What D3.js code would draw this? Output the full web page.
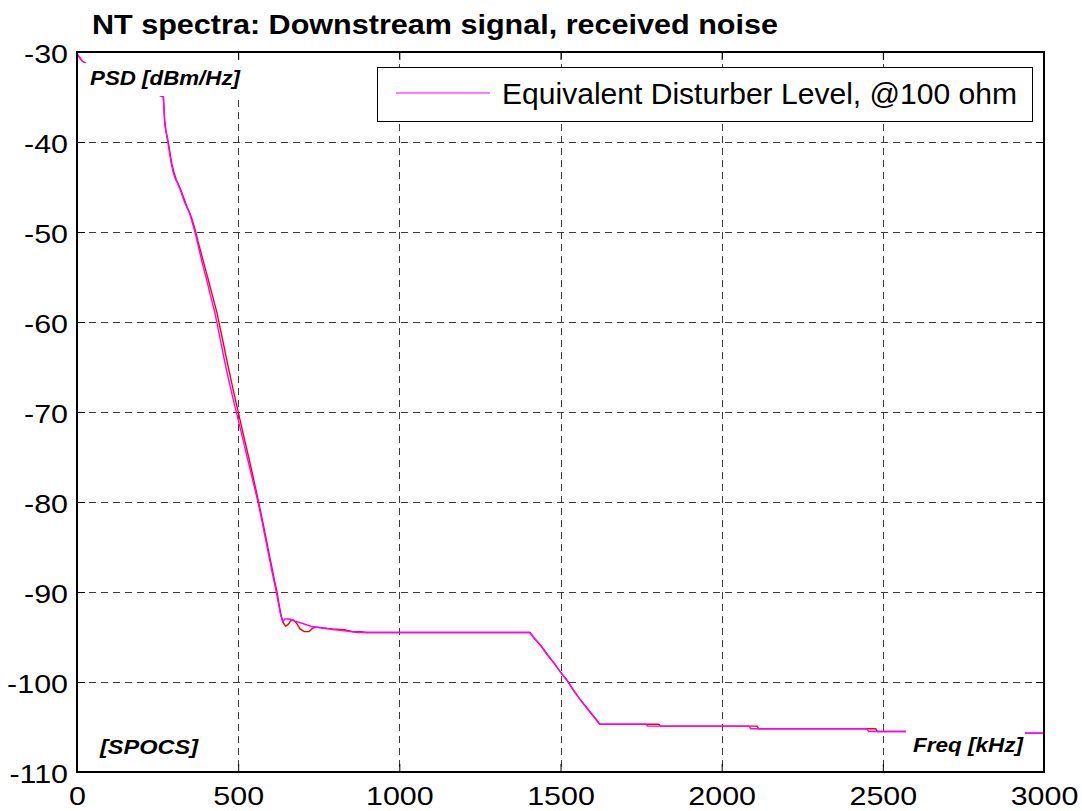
<!DOCTYPE html>
<html>
<head>
<meta charset="utf-8">
<script src="https://cdn.jsdelivr.net/npm/d3@7"></script>
<style>
  html, body { margin: 0; padding: 0; background: #fff; }
  svg { display: block; font-family: Arial, "Liberation Sans", Helvetica, sans-serif; }
</style>
</head>
<body>
<svg id="chart" width="1082" height="811"></svg>
<script>
// ---------------- DATA ----------------
const title = "NT spectra: Downstream signal, received noise";
const legendLabel = "Equivalent Disturber Level, @100 ohm";
const yLabel = "PSD [dBm/Hz]";
const xLabel = "Freq [kHz]";
const cornerLabel = "[SPOCS]";

const xTicks = [0, 500, 1000, 1500, 2000, 2500, 3000];
const yTicks = [-30, -40, -50, -60, -70, -80, -90, -100, -110];

// Magenta series: Equivalent Disturber Level
const magentaFreq = [0, 16, 60, 140, 220, 266, 268, 270, 272, 278, 282, 287, 292, 298, 304, 312, 319, 327, 335, 343, 350, 358, 366, 374, 381, 389, 397, 405, 412, 420, 428, 437, 446, 456, 466, 476, 486, 495, 505, 516, 527, 538, 550, 562, 572, 582, 592, 601, 610, 619, 626, 632, 638, 645, 660, 675, 700, 725, 760, 800, 830, 870, 1405, 1420, 1440, 1460, 1480, 1500, 1520, 1540, 1560, 1580, 1600, 1622, 1765, 1770, 2085, 2090, 2450, 2456, 2600, 2800, 2940, 3000];
const magentaDb = [-30.2, -31.0, -32.0, -33.2, -34.3, -34.9, -35.0, -36.5, -38.0, -39.2, -40.0, -41.2, -42.3, -43.3, -44.0, -44.6, -45.2, -46.0, -46.8, -47.4, -48.0, -49.0, -50.0, -51.2, -52.3, -53.5, -54.6, -55.7, -56.8, -57.9, -59.0, -60.6, -62.2, -64.0, -65.7, -67.3, -68.8, -70.1, -71.6, -73.2, -74.9, -76.5, -78.3, -80.1, -81.8, -83.6, -85.4, -87.0, -88.6, -90.1, -91.5, -92.6, -93.3, -93.0, -93.0, -93.2, -93.5, -93.8, -94.0, -94.2, -94.3, -94.5, -94.5, -95.2, -96.0, -97.0, -97.9, -98.9, -99.8, -100.9, -101.9, -102.8, -103.7, -104.7, -104.7, -104.9, -104.9, -105.2, -105.2, -105.5, -105.5, -105.6, -105.7, -105.7];

// Red series (underneath)
const redFreq = [0, 16, 60, 140, 220, 268, 272, 276, 283, 289, 294, 301, 308, 316, 324, 333, 341, 349, 357, 366, 375, 384, 393, 402, 411, 419, 427, 435, 443, 452, 461, 471, 480, 490, 499, 509, 520, 531, 542, 553, 564, 574, 584, 594, 603, 612, 621, 628, 634, 640, 647, 655, 663, 670, 680, 692, 705, 720, 732, 745, 765, 790, 830, 855, 880, 900, 1405, 1420, 1440, 1460, 1480, 1500, 1520, 1540, 1560, 1580, 1600, 1622, 1805, 1810, 2110, 2115, 2478, 2483, 2600, 2800, 2940, 3000];
const redDb = [-30.2, -31.0, -32.0, -33.2, -34.3, -35.0, -37.5, -38.8, -40.0, -41.3, -42.4, -43.4, -44.2, -44.8, -45.5, -46.4, -47.2, -47.8, -48.6, -49.7, -51.0, -52.2, -53.4, -54.6, -55.8, -56.9, -58.0, -59.1, -60.5, -62.0, -63.6, -65.3, -66.8, -68.4, -69.8, -71.4, -73.1, -74.8, -76.5, -78.3, -80.1, -81.8, -83.6, -85.4, -87.0, -88.6, -90.1, -91.6, -92.7, -93.4, -93.8, -93.6, -93.2, -93.1, -93.4, -94.1, -94.4, -94.4, -94.0, -93.9, -94.0, -94.1, -94.2, -94.4, -94.4, -94.5, -94.5, -95.2, -96.0, -97.0, -97.9, -98.9, -99.8, -100.9, -101.9, -102.8, -103.7, -104.7, -104.7, -104.9, -104.9, -105.2, -105.2, -105.5, -105.5, -105.6, -105.7, -105.7];

// ---------------- LAYOUT ----------------
const plot = { left: 77, right: 1044, top: 52, bottom: 772 };
const svg = d3.select("#chart");

const x = d3.scaleLinear().domain([0, 3000]).range([plot.left, plot.right]);
const y = d3.scaleLinear().domain([-110, -30]).range([plot.bottom, plot.top]);

// white plot background
svg.append("rect").attr("x", plot.left).attr("y", plot.top)
  .attr("width", plot.right - plot.left).attr("height", plot.bottom - plot.top)
  .attr("fill", "#fff");

// grid
const grid = svg.append("g").attr("stroke", "#3a3a3a").attr("stroke-width", 1)
  .attr("stroke-dasharray", "7,5").attr("fill", "none");
grid.selectAll("line.v").data(xTicks.slice(1, -1)).join("line")
  .attr("x1", d => Math.round(x(d)) + 0.5).attr("x2", d => Math.round(x(d)) + 0.5)
  .attr("y1", plot.top).attr("y2", plot.bottom);
grid.selectAll("line.h").data(yTicks.slice(1, -1)).join("line")
  .attr("y1", d => Math.round(y(d)) + 0.5).attr("y2", d => Math.round(y(d)) + 0.5)
  .attr("x1", plot.left).attr("x2", plot.right);

// lines
const line = d3.line().x(d => x(d[0])).y(d => y(d[1])).curve(d3.curveLinear);
const redData = redFreq.map((f, i) => [f, redDb[i]]);
const magData = magentaFreq.map((f, i) => [f, magentaDb[i]]);

svg.append("path").datum(redData).attr("d", line)
  .attr("fill", "none").attr("stroke", "#ff0000").attr("stroke-width", 1.4);
svg.append("path").datum(magData).attr("d", line)
  .attr("fill", "none").attr("stroke", "#ff00ff").attr("stroke-width", 1.4);

// text annotations with white background (they hide the lines beneath them)
svg.append("rect").attr("x", 83).attr("y", 63).attr("width", 159).attr("height", 33).attr("fill", "#fff");
svg.append("rect").attr("x", 906).attr("y", 724).attr("width", 119).attr("height", 38).attr("fill", "#fff");

const italicStyle = sel => sel.attr("font-weight", "bold").attr("font-style", "italic").attr("fill", "#000");
svg.append("text").attr("x", 90).attr("y", 85).attr("font-size", 20)
  .attr("textLength", 150).attr("lengthAdjust", "spacingAndGlyphs")
  .call(italicStyle).text(yLabel);
svg.append("text").attr("x", 100).attr("y", 754).attr("font-size", 21)
  .attr("textLength", 98).attr("lengthAdjust", "spacingAndGlyphs")
  .call(italicStyle).text(cornerLabel);
svg.append("text").attr("x", 913).attr("y", 752).attr("font-size", 20)
  .attr("textLength", 110).attr("lengthAdjust", "spacingAndGlyphs")
  .call(italicStyle).text(xLabel);

// axes
const fontSize = 26;
const gx = svg.append("g").attr("transform", `translate(0,${plot.bottom})`)
  .call(d3.axisBottom(x).tickValues(xTicks).tickFormat(d3.format("d")).tickSizeInner(-8).tickSizeOuter(0).tickPadding(15));
const gy = svg.append("g").attr("transform", `translate(${plot.left},0)`)
  .call(d3.axisLeft(y).tickValues(yTicks).tickFormat(d => String(d)).tickSizeInner(-8).tickSizeOuter(0).tickPadding(9));
const gxt = svg.append("g").attr("transform", `translate(0,${plot.top})`)
  .call(d3.axisTop(x).tickValues(xTicks).tickFormat("").tickSizeInner(-8).tickSizeOuter(0));
const gyr = svg.append("g").attr("transform", `translate(${plot.right},0)`)
  .call(d3.axisRight(y).tickValues(yTicks).tickFormat("").tickSizeInner(-8).tickSizeOuter(0));
[gx, gy, gxt, gyr].forEach(g => {
  g.select(".domain").remove();
  g.selectAll(".tick line").attr("stroke", "#000").attr("stroke-width", 1);
  g.selectAll("text").attr("font-size", fontSize).attr("fill", "#000")
    .attr("font-family", "Arial, 'Liberation Sans', sans-serif");
});
gy.selectAll("text").attr("dy", "0.42em");
// the reference tick labels are slightly wider than natural glyphs
[gx, gy].forEach(g => {
  g.selectAll("text").each(function() {
    const w = this.getComputedTextLength();
    d3.select(this).attr("textLength", w * 1.17).attr("lengthAdjust", "spacingAndGlyphs");
  });
});

// frame
svg.append("rect").attr("x", plot.left).attr("y", plot.top)
  .attr("width", plot.right - plot.left).attr("height", plot.bottom - plot.top)
  .attr("fill", "none").attr("stroke", "#000").attr("stroke-width", 2);

// legend
const lg = svg.append("g");
lg.append("rect").attr("x", 377.5).attr("y", 67.5).attr("width", 655).attr("height", 54)
  .attr("fill", "#fff").attr("stroke", "#000").attr("stroke-width", 1);
lg.append("line").attr("x1", 396).attr("x2", 490).attr("y1", 93).attr("y2", 93)
  .attr("stroke", "#ff00ff").attr("stroke-width", 1.2);
lg.append("text").attr("x", 502).attr("y", 104).attr("font-size", 29)
  .attr("textLength", 515).attr("lengthAdjust", "spacingAndGlyphs")
  .attr("fill", "#000").text(legendLabel);

// title
svg.append("text").attr("x", 92).attr("y", 34).attr("font-size", 28)
  .attr("font-weight", "bold").attr("textLength", 686).attr("lengthAdjust", "spacingAndGlyphs")
  .attr("fill", "#000").text(title);
</script>
</body>
</html>
